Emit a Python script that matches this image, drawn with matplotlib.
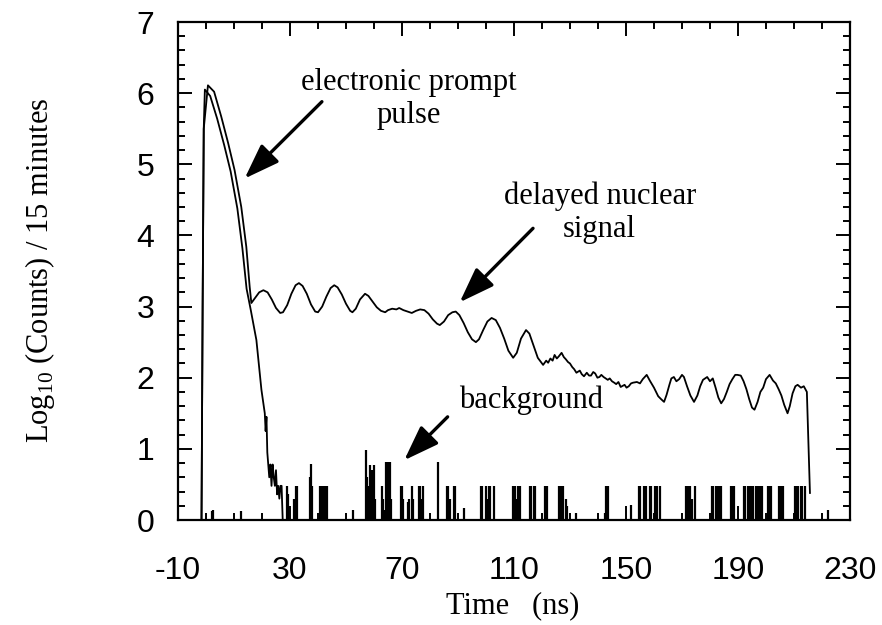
import matplotlib.pyplot as plt
from matplotlib.ticker import MultipleLocator

plt.rcParams['mathtext.fontset'] = 'custom'
plt.rcParams['mathtext.rm'] = 'Liberation Serif'
plt.rcParams['axes.unicode_minus'] = False

SERIF = ['Liberation Serif', 'DejaVu Serif']
SANS = ['Liberation Sans', 'DejaVu Sans']

# prompt pulse: fast decay down into the background
prompt_t = [-1.6, -1.2, -0.8, -0.4, 1.5, 4.0, 6.5, 8.8, 11.2, 13.0, 14.5, 16.0,
            18.0, 19.8, 21.0, 21.3, 21.6, 21.9, 22.2, 22.6, 23.0, 23.4, 23.8,
            24.2, 24.6, 25.0, 25.4, 25.8, 26.2, 26.6, 27.0, 27.4]
prompt_y = [0.0, 3.0, 5.5, 6.05, 5.96, 5.64, 5.27, 4.90, 4.38, 3.82, 3.25, 2.95,
            2.53, 1.83, 1.50, 1.25, 1.45, 0.95, 0.80, 0.60, 0.78, 0.48, 0.78,
            0.60, 0.48, 0.70, 0.36, 0.48, 0.30, 0.48, 0.48, 0.0]

# delayed nuclear signal (same rise, then quantum beats on a slow decay)
delayed_t = [-1.6, -1.2, -0.8, 0.7, 2.9, 5.45, 7.9, 10.2, 12.6, 14.4, 15.6,
             16.2, 17.5, 19.0, 20.5, 22.0, 23.5, 25.0, 26.5, 27.5, 29.0, 30.5,
             32.0, 33.2, 34.5, 36.0, 37.5, 39.0, 40.0, 41.5, 43.0, 44.5, 45.8,
             47.0, 48.5, 50.0, 51.5, 52.3, 53.5, 55.0, 56.8, 58.0, 59.5, 61.0,
             62.5, 64.0, 65.0, 66.5, 68.0, 69.0, 70.5, 72.0, 73.5, 75.0, 76.5,
             78.0, 79.5, 81.0, 82.5, 83.5, 85.0, 86.5, 88.0, 89.2, 90.5, 92.0,
             93.5, 95.0, 96.4, 97.5, 99.0, 100.5, 102.0, 103.5, 105.0, 106.5,
             108.0, 109.7, 111.0, 112.5, 114.3, 115.5, 117.0, 118.5, 120.4,
             121.5, 122.2, 123.0, 123.8, 124.5, 125.3, 126.0, 127.0, 127.8,
             128.5, 129.3, 130.0, 130.8, 131.5, 132.3, 133.5, 134.2, 135.0,
             136.0, 136.8, 137.5, 138.3, 139.0, 139.8, 140.5, 141.2, 142.0,
             143.5, 144.2, 145.0, 145.8, 146.5, 147.3, 148.1, 149.5, 150.2,
             151.0, 151.8, 152.5, 153.9, 155.0, 156.0, 156.7, 157.4, 158.5,
             160.0, 161.5, 162.5, 163.6, 164.5, 165.5, 166.2, 167.1, 168.0,
             169.0, 170.0, 170.7, 171.8, 173.0, 174.3, 175.5, 176.5, 177.5,
             179.0, 180.0, 181.0, 182.0, 183.0, 184.0, 185.0, 186.0, 187.0,
             188.0, 189.0, 189.8, 191.0, 192.0, 193.0, 194.0, 195.0, 195.9,
             197.0, 198.0, 199.0, 200.0, 201.3, 202.5, 203.5, 204.5, 205.5,
             206.5, 207.7, 208.5, 209.5, 210.5, 211.3, 212.5, 213.5, 214.6,
             215.0, 215.5, 215.7]
delayed_y = [0.0, 3.0, 5.5, 6.11, 6.02, 5.67, 5.30, 4.92, 4.40, 3.84, 3.28,
             3.05, 3.12, 3.20, 3.23, 3.20, 3.10, 2.98, 2.91, 2.92, 3.02, 3.18,
             3.30, 3.33, 3.29, 3.18, 3.03, 2.93, 2.92, 3.00, 3.14, 3.26, 3.30,
             3.27, 3.17, 3.04, 2.94, 2.92, 2.97, 3.10, 3.18, 3.15, 3.07, 2.99,
             2.94, 2.92, 2.95, 2.97, 2.96, 2.98, 2.95, 2.93, 2.91, 2.94, 2.96,
             2.95, 2.90, 2.82, 2.76, 2.74, 2.79, 2.88, 2.92, 2.93, 2.88, 2.77,
             2.64, 2.54, 2.50, 2.54, 2.67, 2.79, 2.84, 2.81, 2.70, 2.55,
             2.38, 2.28, 2.35, 2.55, 2.67, 2.62, 2.45, 2.28, 2.18,
             2.24, 2.21, 2.27, 2.24, 2.32, 2.27, 2.30, 2.35, 2.29,
             2.26, 2.22, 2.20, 2.15, 2.12, 2.07, 2.10, 2.05, 2.02,
             2.07, 2.03, 2.03, 2.08, 2.06, 2.00, 2.01, 2.04, 2.01,
             1.97, 1.99, 1.95, 1.93, 1.91, 1.94, 1.87, 1.90, 1.86,
             1.88, 1.92, 1.93, 1.94, 1.92, 1.98, 2.01, 2.04, 1.96,
             1.86, 1.74, 1.70, 1.66, 1.76, 1.90, 1.99, 2.01, 1.95,
             1.98, 2.04, 2.01, 1.88, 1.75, 1.66, 1.75, 1.88, 1.97,
             2.01, 1.95, 1.99, 1.86, 1.72, 1.64, 1.70, 1.80, 1.91,
             1.98, 2.04, 2.04, 2.03, 1.95, 1.84, 1.70, 1.58, 1.55,
             1.66, 1.80, 1.86, 1.98, 2.04, 1.96, 1.92, 1.84, 1.75,
             1.62, 1.50, 1.60, 1.78, 1.88, 1.90, 1.86, 1.88, 1.80,
             1.30, 0.70, 0.38]

# background channels (time, log10 counts)
bg_t = [2.2, 2.6, 12.6, 28.8, 29.3, 31.5, 32.0, 32.5, 37.0, 37.4, 37.8,
        40.6, 41.0, 41.4, 41.8, 42.3, 42.8, 43.2, 52.5,
        57.2, 57.6, 58.0, 58.4, 58.8, 59.2, 59.6, 60.0, 60.4,
        62.8, 63.2, 63.6, 64.2, 64.6, 65.0, 65.4, 65.8, 66.2,
        69.6, 70.0, 70.4, 72.0, 72.4, 73.6, 74.0, 76.2, 76.6, 77.0, 77.4,
        82.7, 86.2, 86.6, 87.0, 88.4, 88.8, 92.0,
        98.2, 98.6, 100.0, 100.4, 101.2, 101.6, 103.0,
        109.8, 110.2, 110.6, 111.6, 112.0, 115.8, 116.2, 117.2, 117.6,
        121.0, 121.8, 126.0, 126.4, 127.2, 127.6, 128.4, 129.0, 132.0,
        142.4, 143.0, 143.6, 151.7,
        154.6, 155.0, 156.6, 157.0, 158.4, 159.0, 160.4, 161.0, 162.2,
        171.4, 171.8, 172.2, 172.6, 173.0, 173.4, 174.6,
        180.8, 181.2, 182.0, 182.8, 183.6, 184.0, 187.4, 187.8, 188.4,
        192.2, 192.6, 193.4, 194.0, 194.8, 195.2,
        196.6, 197.0, 197.8, 198.4, 200.6, 201.0, 201.8,
        204.8, 205.2, 206.0, 210.2, 210.6, 211.4, 212.4, 213.0, 213.8, 222.0]
bg_y = [0.12, 0.14, 0.13, 0.48, 0.36, 0.30, 0.48, 0.48, 0.60, 0.79, 0.48,
        0.48, 0.48, 0.30, 0.48, 0.48, 0.48, 0.48, 0.14,
        0.98, 0.60, 0.48, 0.78, 0.30, 0.70, 0.48, 0.78, 0.30,
        0.48, 0.30, 0.14, 0.81, 0.60, 0.81, 0.48, 0.81, 0.30,
        0.48, 0.48, 0.30, 0.26, 0.30, 0.48, 0.30, 0.48, 0.48, 0.30, 0.48,
        0.81, 0.48, 0.48, 0.30, 0.48, 0.48, 0.17,
        0.48, 0.48, 0.48, 0.30, 0.48, 0.48, 0.48,
        0.48, 0.48, 0.30, 0.48, 0.48, 0.48, 0.48, 0.48, 0.48,
        0.48, 0.48, 0.48, 0.48, 0.48, 0.48, 0.30, 0.20, 0.10,
        0.10, 0.48, 0.48, 0.21,
        0.48, 0.48, 0.48, 0.48, 0.48, 0.48, 0.48, 0.48, 0.48,
        0.48, 0.48, 0.48, 0.48, 0.48, 0.30, 0.48,
        0.48, 0.48, 0.48, 0.48, 0.48, 0.48, 0.48, 0.48, 0.48,
        0.48, 0.48, 0.48, 0.48, 0.48, 0.48,
        0.48, 0.48, 0.48, 0.48, 0.48, 0.48, 0.48,
        0.48, 0.48, 0.48, 0.48, 0.48, 0.48, 0.48, 0.48, 0.48, 0.14]

x_ticks = [-10, 30, 70, 110, 150, 190, 230]

fig = plt.figure(figsize=(8.82, 6.25), dpi=100)
ax = fig.add_axes([0.2018, 0.168, 0.7619, 0.7968])

ax.plot(prompt_t, prompt_y, color='black', lw=1.3)
ax.plot(delayed_t, delayed_y, color='black', lw=1.3)
ax.vlines(bg_t, 0, bg_y, colors='black', lw=1.6)

ax.set_xlim(-10, 230)
ax.set_ylim(0, 7)
ax.set_xticks(x_ticks)
ax.xaxis.set_minor_locator(MultipleLocator(10))
ax.yaxis.set_major_locator(MultipleLocator(1))
ax.yaxis.set_minor_locator(MultipleLocator(0.2))
ax.tick_params(which='both', direction='in', top=True, right=True, width=1.4)
ax.tick_params(which='major', length=10, labelsize=23)
ax.tick_params(which='minor', length=5)
ax.tick_params(axis='x', pad=26)
ax.tick_params(axis='y', pad=17)
for lab in ax.get_xticklabels() + ax.get_yticklabels():
    lab.set_family(SANS)
for s in ax.spines.values():
    s.set_linewidth(1.6)

fig.text(513 / 882, 1 - 606 / 625, 'Time   (ns)', family=SERIF, fontsize=22,
         ha='center', va='center')
fig.text(40 / 882, 1 - 270 / 625, 'Log$_{10}$ (Counts) / 15 minutes',
         family=SERIF, fontsize=22, rotation=90, ha='center', va='center')

arrow = dict(arrowstyle='-|>,head_length=0.9,head_width=0.32', color='black',
             lw=2.4, mutation_scale=24, shrinkA=0, shrinkB=0)
ax.annotate('', xy=(13.8, 4.80), xytext=(41.4, 5.88), arrowprops=arrow)
ax.annotate('', xy=(90.6, 3.06), xytext=(116.8, 4.10), arrowprops=arrow)
ax.annotate('', xy=(70.8, 0.84), xytext=(86.3, 1.45), arrowprops=arrow)

ax.text(72.3, 5.92, 'electronic prompt\npulse', family=SERIF, fontsize=22,
        ha='center', va='center', linespacing=1.2)
ax.text(140.6, 4.32, 'delayed nuclear\nsignal', family=SERIF, fontsize=22,
        ha='center', va='center', linespacing=1.2)
ax.text(116.1, 1.69, 'background', family=SERIF, fontsize=22,
        ha='center', va='center')

fig.savefig('out.png', dpi=100)
